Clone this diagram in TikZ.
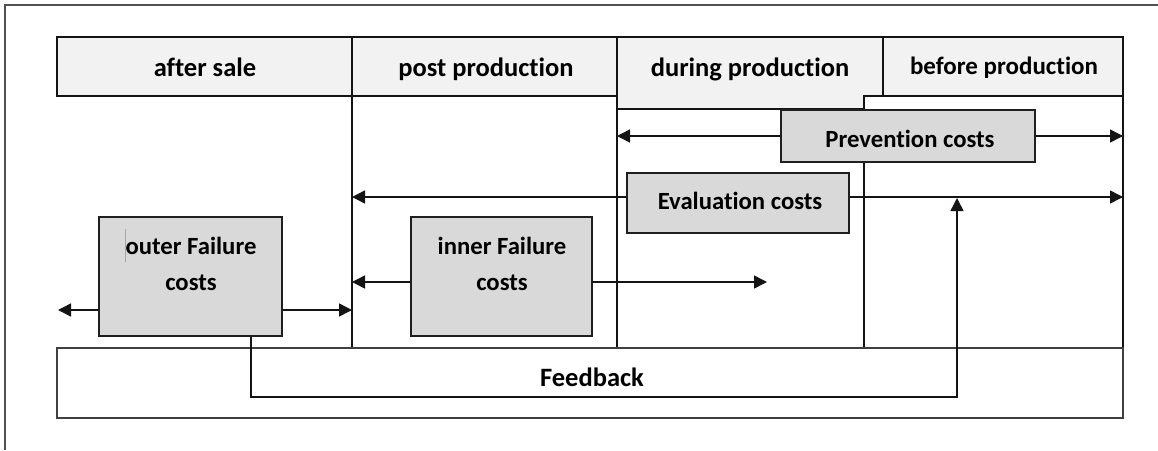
\documentclass[tikz,border=0pt]{standalone}
\usepackage{fontspec}
\setmainfont{Carlito}[Ligatures={NoCommon,NoRequired,NoContextual}]
\usetikzlibrary{arrows.meta}
\definecolor{hdrfill}{HTML}{F2F2F2}
\definecolor{boxfill}{HTML}{D9D9D9}
\definecolor{framec}{HTML}{505050}
\begin{document}
\begin{tikzpicture}[x=1pt,y=-1pt,
  ln/.style={line width=1.5pt, draw=black!92},
  arr/.style={ln, -{Triangle[length=13pt,width=13pt]}},
  hdrbox/.style={ln, fill=hdrfill, rectangle, inner sep=0pt},
  costbox/.style={line width=1.9pt, draw=black!88, fill=boxfill, rectangle, inner sep=0pt},
  hfont/.style={font=\fontsize{26.5}{30}\selectfont\bfseries, anchor=base, inner sep=0pt},
  bfont/.style={font=\fontsize{24.7}{30}\selectfont\bfseries, anchor=base, inner sep=0pt}
]
\useasboundingbox (0,0) rectangle (1158,450);
\fill[white] (0,0) rectangle (1158,450);
% outer frame (cropped)
\draw[line width=2.2pt, draw=framec] (5,450) -- (5,5) -- (1158,5);

% column divider lines
\draw[ln] (352,96) -- (352,348);
\draw[ln] (617,109) -- (617,348);
\draw[ln] (864,96) -- (864,348);
\draw[ln] (1123,96) -- (1123,348);

% header row
\node[hdrbox, minimum width=295pt, minimum height=59pt] (after) at (204.5,66.5) {};
\node[hdrbox, minimum width=265pt, minimum height=59pt] (post) at (484.5,66.5) {};
\path[ln, fill=hdrfill] (617,37) -- (883,37) -- (883,96) -- (864,96) -- (864,109) -- (617,109) -- cycle;
\node[hdrbox, minimum width=240pt, minimum height=59pt] (before) at (1003,66.5) {};
\node[hfont] (tafter) at (205,76) {after sale};
\node[hfont] (tpost) at (486,76) {post production};
\node[hfont] (tduring) at (750,76) {during production};
\node[font=\fontsize{25}{30}\selectfont\bfseries, anchor=base, inner sep=0pt] (tbefore) at (1004,74) {before production};

% feedback box
\node[line width=1.8pt, draw=black!75, fill=white, rectangle, inner sep=0pt,
      minimum width=1066pt, minimum height=70pt] (feedback) at (590,383) {};
\node[hfont] (tfeedback) at (592,386) {Feedback};

% cost boxes
\node[costbox, minimum width=254pt, minimum height=52pt] (prev) at (908,136) {};
\node[bfont] (tprev) at (910,147) {Prevention costs};
\node[costbox, minimum width=222pt, minimum height=60pt] (eval) at (738,203) {};
\node[bfont] (teval) at (740,209) {Evaluation costs};
\node[costbox, minimum width=183pt, minimum height=119pt] (outer) at (190.5,276.5) {};
\node[bfont] (touter1) at (191,254) {outer Failure};
\node[bfont] (touter2) at (191,290) {costs};
\draw[line width=1pt, draw=gray!70] (125,229) -- (125,262);
\node[costbox, minimum width=181pt, minimum height=119pt] (inner) at (501.5,276.5) {};
\node[bfont] (tinner1) at (502,254) {inner Failure};
\node[bfont] (tinner2) at (502,290) {costs};

% connector end points
\coordinate (prevL) at (617,136);
\coordinate (prevR) at (1123,136);
\coordinate (evalL) at (352,197);
\coordinate (evalR) at (1123,197);
\coordinate (outL) at (58,310);
\coordinate (outR) at (352,310);
\coordinate (inL) at (352,282);
\coordinate (inR) at (767,282);
\coordinate (fbturn) at (251,397);
\coordinate (fbtip) at (957,198);

% connectors
\draw[arr] (prev.west) -- (prevL);
\draw[arr] (prev.east) -- (prevR);
\draw[arr] (eval.west |- evalL) -- (evalL);
\draw[arr] (eval.east |- evalR) -- (evalR);
\draw[arr] (outer.west |- outL) -- (outL);
\draw[arr] (outer.east |- outR) -- (outR);
\draw[arr] (inner.west |- inL) -- (inL);
\draw[arr] (inner.east |- inR) -- (inR);
\draw[arr] (outer.south -| fbturn) -- (fbturn) -| (fbtip);
\end{tikzpicture}
\end{document}
